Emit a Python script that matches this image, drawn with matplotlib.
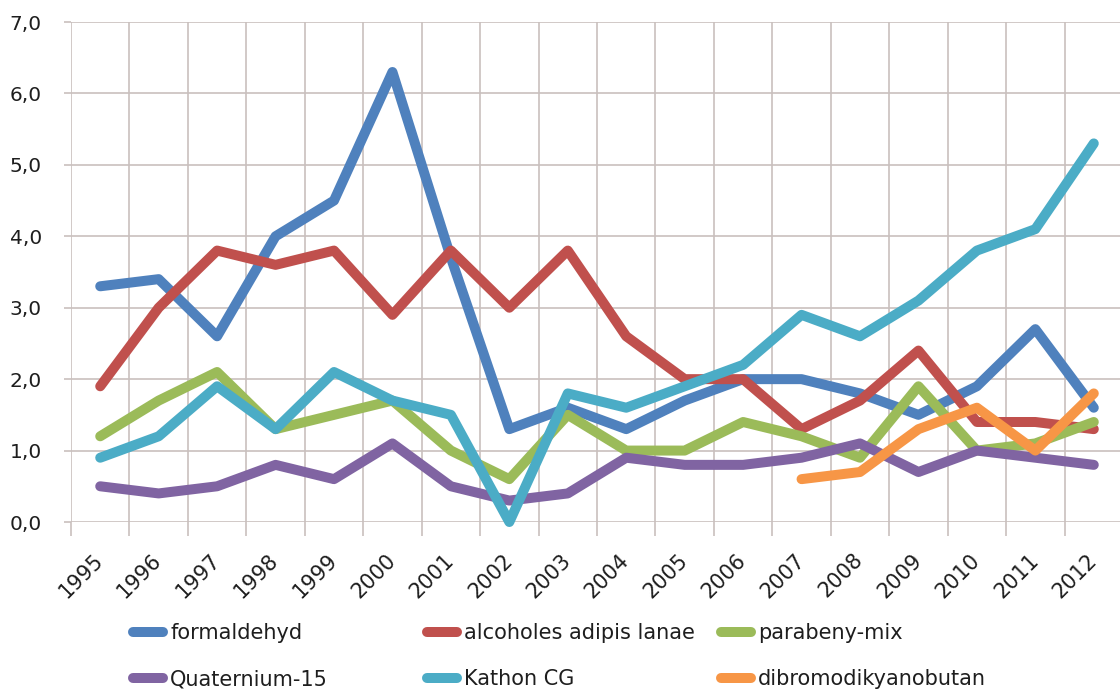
import matplotlib
matplotlib.use("Agg")
import matplotlib.pyplot as plt
import matplotlib.transforms as mtransforms
from matplotlib.lines import Line2D
import numpy as np

years = ["1995", "1996", "1997", "1998", "1999", "2000", "2001", "2002", "2003",
         "2004", "2005", "2006", "2007", "2008", "2009", "2010", "2011", "2012"]

formaldehyd = [3.3, 3.4, 2.6, 4.0, 4.5, 6.3, 3.7, 1.3, 1.6, 1.3, 1.7, 2.0, 2.0, 1.8, 1.5, 1.9, 2.7, 1.6]
alcoholes = [1.9, 3.0, 3.8, 3.6, 3.8, 2.9, 3.8, 3.0, 3.8, 2.6, 2.0, 2.0, 1.3, 1.7, 2.4, 1.4, 1.4, 1.3]
parabeny = [1.2, 1.7, 2.1, 1.3, 1.5, 1.7, 1.0, 0.6, 1.5, 1.0, 1.0, 1.4, 1.2, 0.9, 1.9, 1.0, 1.1, 1.4]
quaternium = [0.5, 0.4, 0.5, 0.8, 0.6, 1.1, 0.5, 0.3, 0.4, 0.9, 0.8, 0.8, 0.9, 1.1, 0.7, 1.0, 0.9, 0.8]
kathon = [0.9, 1.2, 1.9, 1.3, 2.1, 1.7, 1.5, 0.0, 1.8, 1.6, 1.9, 2.2, 2.9, 2.6, 3.1, 3.8, 4.1, 5.3]
dibromo = [np.nan] * 12 + [0.6, 0.7, 1.3, 1.6, 1.0, 1.8]

names = ["formaldehyd", "alcoholes adipis lanae", "parabeny-mix",
         "Quaternium-15", "Kathon CG", "dibromodikyanobutan"]
values = [formaldehyd, alcoholes, parabeny, quaternium, kathon, dibromo]
colors = ["#4F81BD", "#C0504D", "#9BBB59", "#8064A2", "#4BACC6", "#F79646"]

W, H = 1120, 695
grid_c = "#c9c0be"
text_c = "#1e1e1e"

fig = plt.figure(figsize=(W / 100, H / 100), dpi=100)
ax = fig.add_axes([71 / W, (H - 522) / H, (1123 - 71) / W, 500 / H])

x = np.arange(len(years))
handles = []
for name, vals, col in zip(names, values, colors):
    ln, = ax.plot(x, vals, color=col, lw=7.2, solid_capstyle="round",
                  solid_joinstyle="round", clip_on=False, zorder=3, label=name)
    handles.append(ln)

ax.set_xlim(-0.5, len(years) - 0.5)
ax.set_ylim(0, 7)

yt = np.arange(0, 8, 1)
ax.set_yticks(yt)
ax.set_yticklabels([f"{v:.1f}".replace(".", ",") for v in yt], fontsize=14.5, color=text_c)

ax.set_xticks(np.arange(-0.5, len(years), 1))
ax.set_xticklabels([])
ax.set_xticks(x, minor=True)
ax.set_xticklabels(years, minor=True, rotation=45, ha="right", va="top",
                   fontsize=15, color=text_c)

ax.grid(True, which="major", color=grid_c, lw=1.2, zorder=0)
for s in ax.spines.values():
    s.set_visible(False)
ax.tick_params(axis="x", which="major", length=10, width=1.2, color=grid_c, direction="out")
ax.tick_params(axis="x", which="minor", length=0, pad=20)
ax.tick_params(axis="y", which="major", length=5, width=1.2, color=grid_c, pad=16)

offset = mtransforms.ScaledTranslation(7 / 100, 0, fig.dpi_scale_trans)
for lab in ax.get_xticklabels(minor=True):
    lab.set_transform(lab.get_transform() + offset)

# legend: 2 rows x 3 columns, Excel-style fixed column positions
col_x = [133, 427, 721]
row_y = [633, 679]
for i, (h, name) in enumerate(zip(handles, names)):
    r, c = divmod(i, 3)
    proxy = Line2D([0], [0], color=h.get_color(), lw=7.2, solid_capstyle="round")
    leg = fig.legend([proxy], [name], loc="center left",
                     bbox_to_anchor=(col_x[c] / W, (H - row_y[r]) / H),
                     frameon=False, fontsize=15, handlelength=1.45,
                     handletextpad=0.33, borderpad=0, borderaxespad=0)
    for t in leg.get_texts():
        t.set_color(text_c)

fig.savefig("out.png", dpi=100, facecolor="white")
